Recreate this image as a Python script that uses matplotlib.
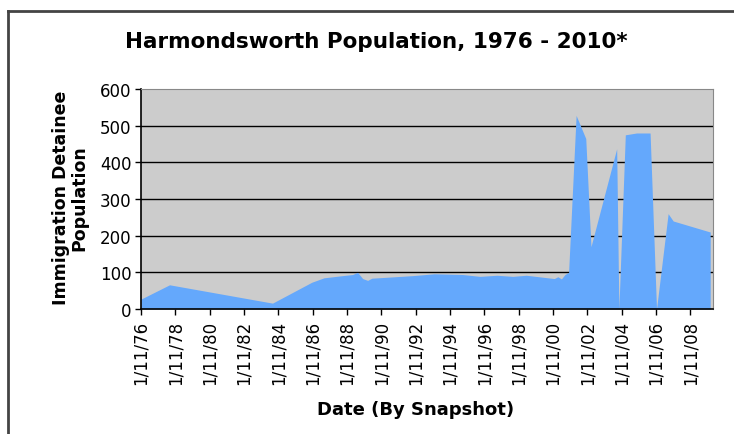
import numpy as np
import pandas as pd
import matplotlib
matplotlib.use("Agg")
import matplotlib.pyplot as plt
from matplotlib.lines import Line2D

# snapshot dates and detainee counts
dates = ["1976-11-01", "1978-07-01", "1984-07-01", "1986-10-15", "1987-07-01",
         "1988-08-01", "1989-03-01", "1989-06-15", "1989-10-01", "1990-01-15",
         "1990-04-15", "1992-09-01", "1993-12-01", "1995-08-01", "1996-08-01",
         "1997-08-01", "1998-07-01", "1999-04-15", "2000-12-01", "2001-02-15",
         "2001-05-01", "2001-07-15", "2001-10-01", "2002-03-10", "2002-10-01",
         "2003-01-20", "2004-07-20", "2004-09-05", "2005-01-20", "2005-09-15",
         "2006-07-01", "2006-11-15", "2007-07-20", "2007-11-05", "2009-12-31"]
population = [27, 66, 16, 73, 85,
              91, 94, 100, 83, 78,
              84, 91, 96, 94, 89,
              92, 89, 92, 83, 88,
              82, 94, 100, 528, 465,
              170, 437, 0, 475, 480,
              480, 0, 260, 240, 210]

tick_years = list(range(1976, 2009, 2))
tick_labels = ["1/11/%02d" % (y % 100) for y in tick_years]
y_ticks = [0, 100, 200, 300, 400, 500, 600]

x = pd.to_datetime(dates)
ticks = pd.to_datetime(["%d-11-01" % y for y in tick_years])

fig = plt.figure(figsize=(7.34, 4.35), dpi=100)
ax = fig.add_axes([141/734, 1-310/435, 572/734, 220/435])
ax.set_facecolor("#cccccc")

ax.fill_between(x, population, 0, color="#64a8fc", linewidth=0, zorder=2)

for v in y_ticks[1:-1]:
    ax.axhline(v, color="black", linewidth=1, zorder=1)

ax.set_ylim(0, 600)
ax.set_xlim(pd.Timestamp("1976-11-01"), pd.Timestamp("2010-03-01"))
ax.set_yticks(y_ticks)
ax.set_xticks(ticks)
ax.set_xticklabels(tick_labels, rotation=90)
ax.tick_params(axis="both", direction="out", length=4, width=1, colors="black",
               labelsize=12, pad=3)
ax.tick_params(axis="x", pad=4)

for s in ["top", "right"]:
    ax.spines[s].set_color("#888888")
for s in ["left", "bottom"]:
    ax.spines[s].set_color("black")
    ax.spines[s].set_linewidth(1.2)

fig.text(376/734, 1-42/435, "Harmondsworth Population, 1976 - 2010*",
         ha="center", va="center", fontsize=15.5, fontweight="bold")
fig.text(416/734, 1-410/435, "Date (By Snapshot)",
         ha="center", va="center", fontsize=13, fontweight="bold")
fig.text(70/734, 1-198/435, "Immigration Detainee\nPopulation", rotation=90,
         ha="center", va="center", multialignment="center",
         fontsize=12.5, fontweight="bold", linespacing=1.0)

# outer chart frame (top and left edges visible)
fig.add_artist(Line2D([8/734, 1], [1-12/435, 1-12/435], transform=fig.transFigure,
                      color="#444444", linewidth=2))
fig.add_artist(Line2D([8/734, 8/734], [0, 1-12/435], transform=fig.transFigure,
                      color="#444444", linewidth=2))

fig.savefig("out.png", dpi=100, facecolor="white")
